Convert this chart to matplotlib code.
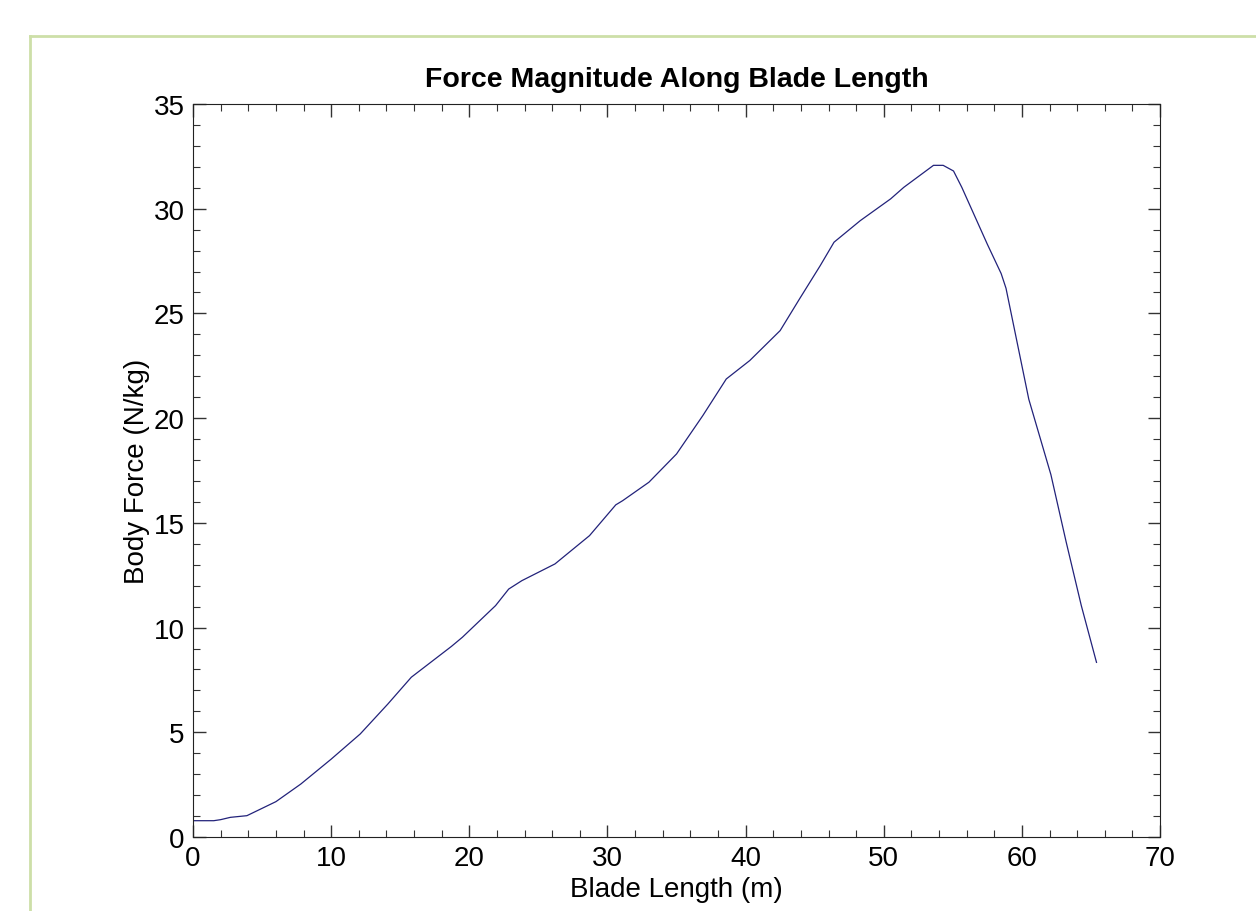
import matplotlib.pyplot as plt
from matplotlib.lines import Line2D
from matplotlib.ticker import MultipleLocator

plt.rcParams['font.family'] = ['Liberation Sans', 'DejaVu Sans']

# values
blade_len = [0, 1.5, 2.0, 2.7, 3.9, 6.0, 7.8, 10.0, 12.1, 14.1, 15.8, 18.7, 19.5,
             21.9, 22.85, 23.8, 26.2, 28.7, 30.6, 31.1, 33.0, 35.0, 36.9, 38.6,
             40.3, 42.5, 43.9, 45.4, 46.4, 48.3, 50.5, 51.45, 53.6, 54.3, 55.05,
             55.65, 57.5, 58.5, 58.85, 60.5, 62.1, 63.2, 64.3, 65.4]
body_force = [0.78, 0.78, 0.83, 0.94, 1.02, 1.69, 2.53, 3.72, 4.92, 6.35, 7.63, 9.1, 9.54,
              11.05, 11.84, 12.24, 13.04, 14.39, 15.86, 16.06, 16.94, 18.29, 20.12, 21.87,
              22.75, 24.18, 25.69, 27.28, 28.4, 29.43, 30.47, 31.02, 32.07, 32.07, 31.8,
              31.02, 28.3, 26.9, 26.2, 20.9, 17.3, 14.1, 11.05, 8.34]

fig = plt.figure(figsize=(12.56, 9.12), dpi=100)
ax = fig.add_axes([0.1537, 0.0811, 0.7699, 0.8038])

ax.plot(blade_len, body_force, color='#22227a', lw=0.9)

ax.set_xlim(0, 70)
ax.set_ylim(0, 35)
ax.xaxis.set_major_locator(MultipleLocator(10))
ax.xaxis.set_minor_locator(MultipleLocator(2))
ax.yaxis.set_major_locator(MultipleLocator(5))
ax.yaxis.set_minor_locator(MultipleLocator(1))
ax.tick_params(which='both', direction='in', top=True, right=True, color='#333333')
ax.tick_params(which='major', length=9, width=1, labelsize=20, pad=6)
ax.tick_params(which='minor', length=5, width=0.8)
for s in ax.spines.values():
    s.set_color('#222222')

ax.set_title('Force Magnitude Along Blade Length', fontsize=20.5, fontweight='bold', pad=13)
ax.set_xlabel('Blade Length (m)', fontsize=20, labelpad=3)
ax.set_ylabel('Body Force (N/kg)', fontsize=20, labelpad=3)

# light green frame of the original screenshot
green = '#cddfa8'
fig.add_artist(Line2D([29.5 / 1256, 29.5 / 1256], [0, 1 - 37 / 912], color=green, lw=2))
fig.add_artist(Line2D([29.5 / 1256, 1], [1 - 37 / 912, 1 - 37 / 912], color=green, lw=2))

fig.savefig('out.png', dpi=100)
